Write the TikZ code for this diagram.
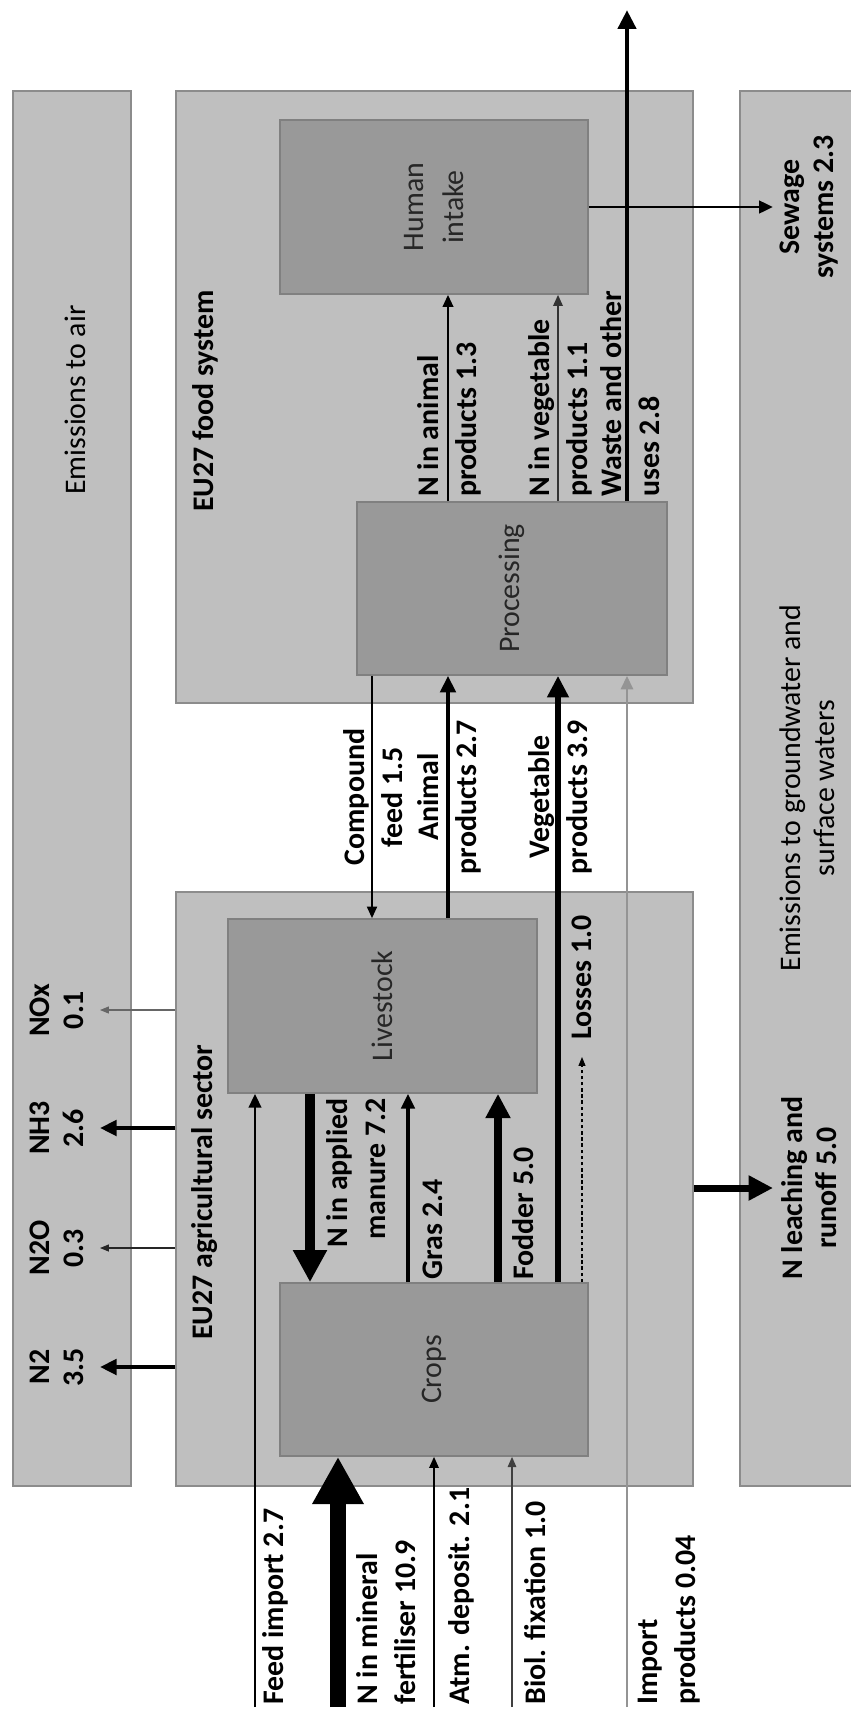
\documentclass[tikz,border=0pt]{standalone}
\usepackage{fontspec}
\setmainfont{Carlito}
\usetikzlibrary{arrows.meta, positioning, fit, calc}

\tikzset{
  band/.style={draw=black!45, fill=black!25, line width=0.9pt, inner sep=0pt},
  unit/.style={draw=black!50, fill=black!40, line width=0.9pt, inner sep=0pt},
  title/.style={rotate=90, inner sep=0pt, align=center, text=black!85,
                font=\fontsize{17}{22.5}\selectfont},
  lbl/.style={rotate=90, inner sep=0pt, font=\bfseries\fontsize{17}{21.5}\selectfont},
  sinklbl/.style={rotate=90, inner sep=0pt, align=center,
                  font=\bfseries\fontsize{17}{19.5}\selectfont},
  nflow/.style={line width=#1, -{Triangle[length=3.5pt 2.6, width=2.3pt 2.8]}}
}

\begin{document}
\begin{tikzpicture}[x=0.02cm, y=-0.02cm]
\useasboundingbox (0,0) rectangle (850,1711);

% sinks and sectors
\node[band, fit={(13,91) (131,1486)}] (air) {};
\node[band, fit={(740,91) (870,1486)}] (water) {};
\node[band, fit={(176,91) (693,703)}] (food) {};
\node[band, fit={(176,892) (693,1486)}] (agri) {};

% units
\node[unit, fit={(280,120) (588,294)}] (human) {};
\node[unit, fit={(357,502) (667,675)}] (proc) {};
\node[unit, fit={(228,919) (537,1093)}] (live) {};
\node[unit, fit={(280,1283) (588,1456)}] (crops) {};

\node[title] (humanlbl) at (human) {Human\\intake};
\node[title] (proclbl) at (proc) {Processing};
\node[title] (livelbl) at (live) {Livestock};
\node[title] (cropslbl) at (crops) {Crops};

\node[lbl, anchor=west] (foodlbl) at (205,512) {EU27 food system};
\node[lbl, anchor=west] (agrilbl) at (205,1340) {EU27 agricultural sector};
\node[title, text=black] (airlbl) at (75,400) {Emissions to air};
\node[title, text=black, font=\fontsize{17}{19.5}\selectfont] (waterlbl) at (807,788)
  {Emissions to groundwater and\\surface waters};

% flow columns and free ends
\coordinate (xfeed) at (255,0);
\coordinate (xfert) at (338,0);
\coordinate (xatm) at (434,0);
\coordinate (xbiol) at (512,0);
\coordinate (ximp) at (627,0);
\coordinate (xman) at (310,0);
\coordinate (xgras) at (408,0);
\coordinate (xfod) at (498,0);
\coordinate (xveg) at (558,0);
\coordinate (xloss) at (582,0);
\coordinate (xcomp) at (372,0);
\coordinate (xanim) at (448,0);
\coordinate (bottom) at (0,1707);
\coordinate (wastetop) at (627,10);
\coordinate (lossend) at (582,1057);
\coordinate (sewend) at (773,207);
\coordinate (leachend) at (773,1188);
\coordinate (n2end) at (100,1367);
\coordinate (n2oend) at (100,1248);
\coordinate (nh3end) at (100,1128);
\coordinate (noxend) at (100,1010);

% inputs
\draw[nflow=1.7pt] (xfeed |- bottom) -- (xfeed |- live.south);
\draw[nflow=9pt] (xfert |- bottom) -- (xfert |- crops.south);
\draw[nflow=1.1pt] (xatm |- bottom) -- (xatm |- crops.south);
\draw[nflow=0.9pt, black!75] (xbiol |- bottom) -- (xbiol |- crops.south);
\draw[nflow=1.6pt, black!42] (ximp |- bottom) -- (ximp |- proc.south);

% agricultural sector
\draw[nflow=5.7pt] (xman |- live.south) -- (xman |- crops.north);
\draw[nflow=1.9pt] (xgras |- crops.north) -- (xgras |- live.south);
\draw[nflow=4pt] (xfod |- crops.north) -- (xfod |- live.south);
\draw[nflow=0.6pt, dash pattern=on 2pt off 1.5pt] (xloss |- crops.north) -- (lossend);
\draw[nflow=3.4pt] (xveg |- crops.north) -- (xveg |- proc.south);
\draw[nflow=2.3pt] (xanim |- live.north) -- (xanim |- proc.south);
\draw[nflow=1.2pt] (xcomp |- proc.south) -- (xcomp |- live.north);

% food system
\draw[nflow=1.3pt] (xanim |- proc.north) -- (xanim |- human.south);
\draw[nflow=1.1pt, black!80] (xveg |- proc.north) -- (xveg |- human.south);
\draw[nflow=1.7pt] (human.east |- sewend) -- (sewend);
\draw[nflow=2.8pt] (ximp |- proc.north) -- (wastetop);

% losses to air and water
\draw[nflow=2.3pt] (agri.west |- n2end) -- (n2end);
\draw[nflow=0.6pt, black!85] (agri.west |- n2oend) -- (n2oend);
\draw[nflow=2.3pt] (agri.west |- nh3end) -- (nh3end);
\draw[nflow=0.6pt, black!60] (agri.west |- noxend) -- (noxend);
\draw[nflow=4pt] (agri.east |- leachend) -- (leachend);

% labels
\node[sinklbl] (n2lbl) at (57,1367) {N2\\3.5};
\node[sinklbl] (n2olbl) at (57,1248) {N2O\\0.3};
\node[sinklbl] (nh3lbl) at (57,1128) {NH3\\2.6};
\node[sinklbl] (noxlbl) at (57,1010) {NOx\\0.1};
\node[sinklbl] (sewlbl) at (809,207) {Sewage\\systems 2.3};
\node[sinklbl] (leachlbl) at (809,1188) {N leaching and\\runoff 5.0};

\node[lbl, anchor=west] (feedlbl) at (275,1705) {Feed import 2.7};
\node[lbl, anchor=west, align=left] (fertlbl) at (386,1705) {N in mineral\\fertiliser 10.9};
\node[lbl, anchor=west] (atmlbl) at (461,1705) {Atm. deposit. 2.1};
\node[lbl, anchor=west] (biollbl) at (535,1705) {Biol. fixation 1.0};
\node[lbl, anchor=west, align=left] (implbl) at (669,1705) {Import\\products 0.04};

\node[lbl, anchor=east, align=right] (manlbl) at (356,1098) {N in applied\\manure 7.2};
\node[lbl, anchor=west] (graslbl) at (433,1280) {Gras 2.4};
\node[lbl, anchor=west] (fodlbl) at (523,1280) {Fodder 5.0};
\node[lbl, anchor=west] (losslbl) at (582,1040) {Losses 1.0};

\node[lbl, align=center] (complbl) at (373,797) {Compound\\feed 1.5};
\node[lbl, align=center] (animlbl) at (449,797) {Animal\\products 2.7};
\node[lbl, align=center] (veglbl) at (560,797) {Vegetable\\products 3.9};

\node[lbl, anchor=west, align=left] (hanimlbl) at (449,497) {N in animal\\products 1.3};
\node[lbl, anchor=west, align=left] (hveglbl) at (560,497) {N in vegetable\\products 1.1};
\node[lbl, anchor=west, align=left] (wastelbl) at (630,497) {Waste and other\\uses 2.8};
\end{tikzpicture}
\end{document}
